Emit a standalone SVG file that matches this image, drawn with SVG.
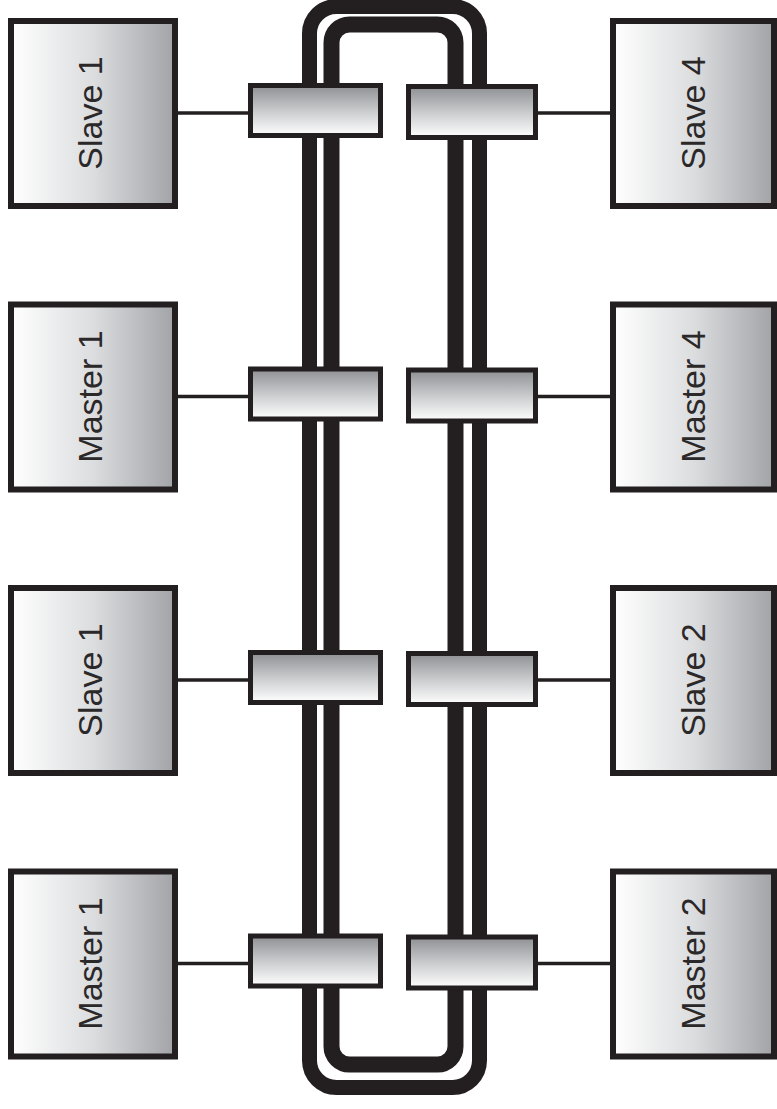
<svg xmlns="http://www.w3.org/2000/svg" width="777" height="1109" viewBox="0 0 777 1109">
  <defs>
    <linearGradient id="boxFill" x1="0" y1="0" x2="1" y2="0">
      <stop offset="0" stop-color="#ffffff"/>
      <stop offset="0.5" stop-color="#dcdddf"/>
      <stop offset="1" stop-color="#a2a3a7"/>
    </linearGradient>
    <linearGradient id="xcvrFill" x1="0" y1="0" x2="0" y2="1">
      <stop offset="0" stop-color="#8e8f93"/>
      <stop offset="0.55" stop-color="#cfd0d2"/>
      <stop offset="1" stop-color="#ffffff"/>
    </linearGradient>
    <style>
      .box { fill: url(#boxFill); stroke: #231f20; stroke-width: 6; }
      .xcvr { fill: url(#xcvrFill); stroke: #231f20; stroke-width: 5; }
      .ring { fill: none; stroke: #231f20; }
      .link { stroke: #231f20; stroke-width: 3.5; }
      .label { font-family: "Liberation Sans", Arial, sans-serif; font-size: 34px; fill: #2b2829; text-anchor: middle; }
    </style>
  </defs>

  <rect width="777" height="1109" fill="#ffffff"/>

  <!-- dual ring bus -->
  <g id="ring">
    <rect class="ring" x="309.5" y="6.5" width="170" height="1081" rx="27" stroke-width="15"/>
    <rect class="ring" x="331.5" y="24.5" width="124" height="1040" rx="18" stroke-width="16"/>
  </g>

  <!-- stub lines from stations to ring interfaces -->
  <g id="connectors">
    <line class="link" x1="178" y1="113" x2="249" y2="113"/>
    <line class="link" x1="537" y1="113" x2="611" y2="113"/>
    <line class="link" x1="178" y1="396.5" x2="249" y2="396.5"/>
    <line class="link" x1="537" y1="396.5" x2="611" y2="396.5"/>
    <line class="link" x1="178" y1="680" x2="249" y2="680"/>
    <line class="link" x1="537" y1="680" x2="611" y2="680"/>
    <line class="link" x1="178" y1="963.5" x2="249" y2="963.5"/>
    <line class="link" x1="537" y1="963.5" x2="611" y2="963.5"/>
  </g>

  <!-- ring interfaces -->
  <g id="xcvr-l1"><rect class="xcvr" x="250.5" y="85.5" width="130" height="50"/></g>
  <g id="xcvr-r1"><rect class="xcvr" x="408.5" y="86.5" width="127" height="51"/></g>
  <g id="xcvr-l2"><rect class="xcvr" x="250.5" y="369" width="130" height="50"/></g>
  <g id="xcvr-r2"><rect class="xcvr" x="408.5" y="370" width="127" height="51"/></g>
  <g id="xcvr-l3"><rect class="xcvr" x="250.5" y="652.5" width="130" height="50"/></g>
  <g id="xcvr-r3"><rect class="xcvr" x="408.5" y="653.5" width="127" height="51"/></g>
  <g id="xcvr-l4"><rect class="xcvr" x="250.5" y="936" width="130" height="50"/></g>
  <g id="xcvr-r4"><rect class="xcvr" x="408.5" y="937" width="127" height="51"/></g>

  <!-- stations, left column -->
  <g id="slave1-top">
    <rect class="box" x="11" y="21" width="164" height="185"/>
    <text class="label" transform="translate(102,113) rotate(-90)">Slave 1</text>
  </g>
  <g id="master1-upper">
    <rect class="box" x="11" y="304.5" width="164" height="185"/>
    <text class="label" transform="translate(102,396.5) rotate(-90)">Master 1</text>
  </g>
  <g id="slave1-lower">
    <rect class="box" x="11" y="588" width="164" height="185"/>
    <text class="label" transform="translate(102,680) rotate(-90)">Slave 1</text>
  </g>
  <g id="master1-bottom">
    <rect class="box" x="11" y="871.5" width="164" height="185"/>
    <text class="label" transform="translate(102,963.5) rotate(-90)">Master 1</text>
  </g>

  <!-- stations, right column -->
  <g id="slave4">
    <rect class="box" x="613" y="21" width="161" height="185"/>
    <text class="label" transform="translate(705,113) rotate(-90)">Slave 4</text>
  </g>
  <g id="master4">
    <rect class="box" x="613" y="304.5" width="161" height="185"/>
    <text class="label" transform="translate(705,396.5) rotate(-90)">Master 4</text>
  </g>
  <g id="slave2">
    <rect class="box" x="613" y="588" width="161" height="185"/>
    <text class="label" transform="translate(705,680) rotate(-90)">Slave 2</text>
  </g>
  <g id="master2">
    <rect class="box" x="613" y="871.5" width="161" height="185"/>
    <text class="label" transform="translate(705,963.5) rotate(-90)">Master 2</text>
  </g>
</svg>
